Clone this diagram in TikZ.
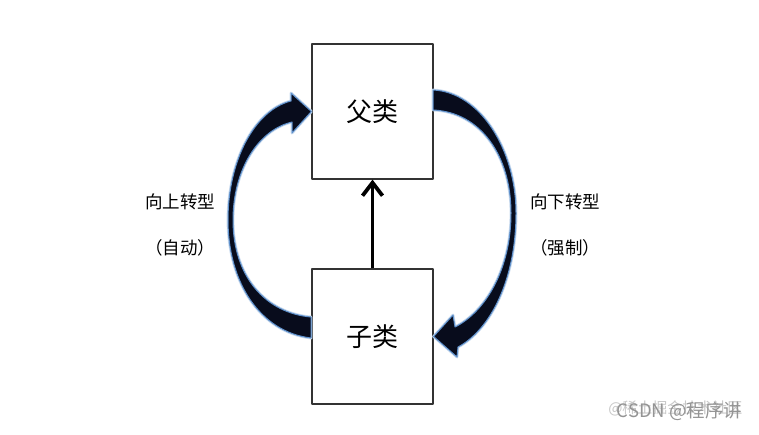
\documentclass[tikz,border=0pt]{standalone}
\usepackage{fontspec}
\newfontfamily\cjk{Noto Sans CJK SC}
\usetikzlibrary{arrows.meta}
\definecolor{arrowfill}{RGB}{8,12,28}
\definecolor{arrowglow}{RGB}{95,145,205}
\begin{document}
\begin{tikzpicture}[x=1pt,y=-1pt,line join=round,font=\cjk,
    box/.style={draw=black!80,line width=1.2pt,fill=white,minimum width=121pt,minimum height=135pt,inner sep=0pt,font=\cjk\fontsize{26}{26}\selectfont},
    bendarrow/.style={fill=arrowfill,draw=arrowglow,line width=1pt,preaction={draw=arrowglow!35,line width=2.8pt}},
    lab/.style={font=\cjk\fontsize{17.5}{18}\selectfont}]
    \useasboundingbox (0,0) rectangle (759,434);
    \node[box] (fu) at (372.5,111.5) {父类};
    \node[box] (zi) at (372.5,336.5) {子类};
    \draw[line width=3.8pt,-{Straight Barb[length=13pt,width=20pt]}] (zi.north) -- (fu.south);
    % left: upcast
    \path[bendarrow] (311,338) .. controls (260,332) and (228,282) .. (228,220)
        .. controls (228,160) and (255,110) .. (291,101) -- (291,93) -- (fu.west) -- (292,133) -- (292,122)
        .. controls (258,130) and (233,170) .. (233,220) .. controls (233,276) and (265,313) .. (311,317) -- cycle;
    % right: downcast
    \path[bendarrow] (433,90) .. controls (480,92) and (516,150) .. (516,213)
        .. controls (516,280) and (490,330) .. (458,347) -- (457,357) -- (zi.east) -- (453,315) -- (455,327)
        .. controls (485,312) and (511,270) .. (511,213) .. controls (511,155) and (480,112) .. (433,110) -- cycle;
    \node[lab] (up) at (180,202) {向上转型};
    \node[lab] (upnote) at (180,248) {（自动）};
    \node[lab] (down) at (565,202) {向下转型};
    \node[lab] (downnote) at (565,248) {（强制）};
    \node[font=\cjk\fontsize{15}{15}\selectfont,text=black!22,anchor=east] (juejin) at (746,408) {@稀土掘金技术社区};
    \node[font=\cjk\fontsize{18.5}{18.5}\selectfont,text=black!42,anchor=east] (csdn) at (746,411) {CSDN @程序讲};
\end{tikzpicture}
\end{document}
